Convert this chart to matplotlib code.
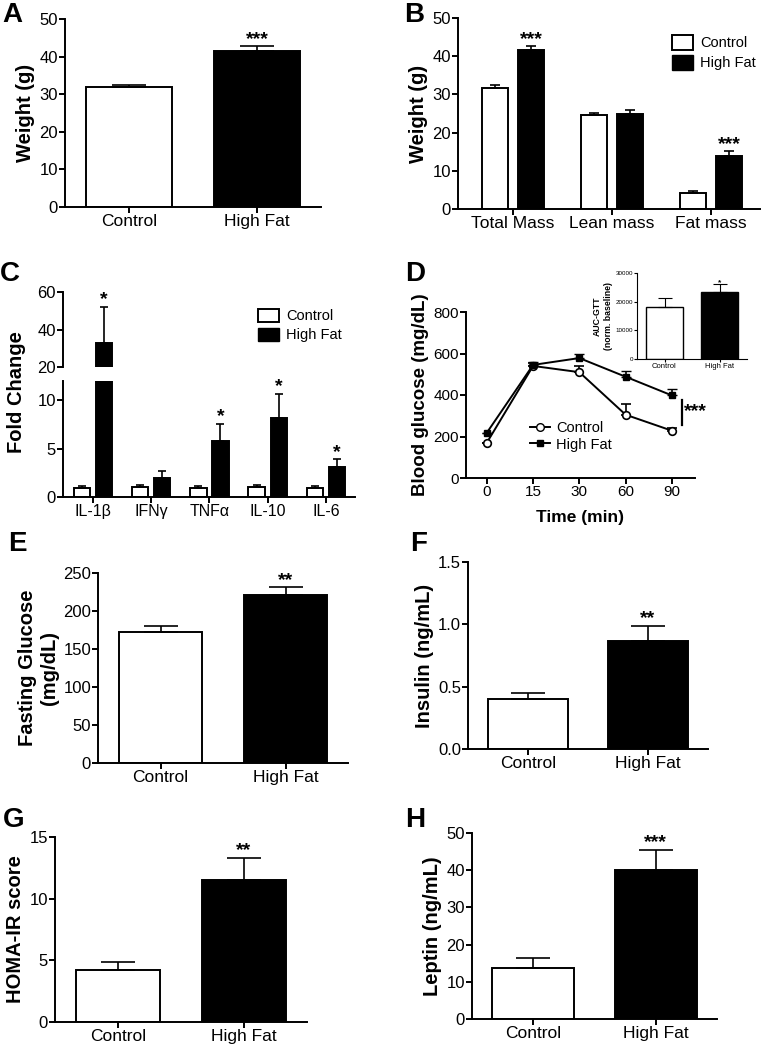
import matplotlib
matplotlib.use("Agg")
import matplotlib.pyplot as plt
from matplotlib.lines import Line2D
from matplotlib.patches import Patch
import numpy as np

plt.rcParams["font.family"] = ["Liberation Sans", "DejaVu Sans"]
plt.rcParams["axes.linewidth"] = 1.4
plt.rcParams["xtick.major.width"] = 1.4
plt.rcParams["ytick.major.width"] = 1.4
plt.rcParams["xtick.major.size"] = 4
plt.rcParams["ytick.major.size"] = 4
plt.rcParams["xtick.labelsize"] = 12
plt.rcParams["ytick.labelsize"] = 12

# ---- data ----
groups = ["Control", "High Fat"]

# A: body weight
weight_mean = [31.8, 41.6]
weight_err = [0.6, 1.1]

# B: body composition
comp_labels = ["Total Mass", "Lean mass", "Fat mass"]
comp_ctrl = [31.8, 24.6, 4.3]
comp_ctrl_err = [0.6, 0.6, 0.3]
comp_hf = [41.6, 25.0, 13.9]
comp_hf_err = [1.0, 0.8, 1.2]
comp_stars = ["***", "", "***"]

# C: cytokines
cyto_labels = ["IL-1β", "IFNγ", "TNFα", "IL-10", "IL-6"]
cyto_ctrl = [0.95, 1.0, 0.95, 1.0, 0.95]
cyto_ctrl_err = [0.2, 0.25, 0.15, 0.25, 0.2]
cyto_hf = [33.0, 2.0, 5.8, 8.2, 3.1]
cyto_hf_err = [19.0, 0.7, 1.8, 2.5, 0.8]
cyto_stars = ["*", "", "*", "*", "*"]

# D: GTT
gtt_time = ["0", "15", "30", "60", "90"]
gtt_ctrl = [170, 540, 510, 305, 228]
gtt_ctrl_err = [0, 15, 30, 50, 12]
gtt_hf = [218, 545, 578, 488, 398]
gtt_hf_err = [0, 15, 22, 30, 32]
auc_mean = [18000, 23300]
auc_err = [3200, 2700]

# E-H
glucose_mean = [172, 221]
glucose_err = [8, 10]
insulin_mean = [0.40, 0.87]
insulin_err = [0.05, 0.12]
homa_mean = [4.2, 11.5]
homa_err = [0.7, 1.8]
leptin_mean = [13.8, 40.0]
leptin_err = [2.7, 5.5]

W, H = 762, 1050
fig = plt.figure(figsize=(W / 100, H / 100), dpi=100)


def box(l, t, r, b):
    return [l / W, 1 - b / H, (r - l) / W, (b - t) / H]


def clean(ax):
    ax.spines["top"].set_visible(False)
    ax.spines["right"].set_visible(False)
    ax.tick_params(direction="out", pad=1)


def star(ax, x, y, s, size=14):
    ax.annotate(s, (x, y), xytext=(0, -1), textcoords="offset points",
                ha="center", va="bottom", fontsize=size, fontweight="bold")


def two_bar(rect, means, errs, ylim, yticks, ylabel, stars):
    ax = fig.add_axes(box(*rect))
    clean(ax)
    x = np.arange(2)
    ax.bar(x, means, 0.67, color=["white", "black"], edgecolor="black", linewidth=1.4,
           yerr=[[0, 0], errs], capsize=12, error_kw=dict(elinewidth=1.2, capthick=1.2),
           zorder=2)
    ax.set_xlim(-0.5, 1.5)
    ax.set_ylim(*ylim)
    ax.set_yticks(yticks)
    ax.set_xticks(x)
    ax.set_xticklabels(groups, fontsize=12.5)
    ax.set_ylabel(ylabel, fontsize=14.5, fontweight="bold", labelpad=3)
    star(ax, 1, means[1] + errs[1], stars)
    return ax


# A
two_bar((65, 19, 321, 207), weight_mean, weight_err, (0, 50), [0, 10, 20, 30, 40, 50],
        "Weight (g)", "***")

# B
axb = fig.add_axes(box(458, 18, 760, 209))
clean(axb)
xb = np.arange(3)
axb.bar(xb - 0.185, comp_ctrl, 0.26, color="white", edgecolor="black", linewidth=1.4,
        yerr=[[0] * 3, comp_ctrl_err], capsize=3.5, error_kw=dict(elinewidth=1.2, capthick=1.2))
axb.bar(xb + 0.185, comp_hf, 0.26, color="black", edgecolor="black", linewidth=1.4,
        yerr=[[0] * 3, comp_hf_err], capsize=3.5, error_kw=dict(elinewidth=1.2, capthick=1.2))
for i, s in enumerate(comp_stars):
    if s:
        star(axb, i + 0.185, comp_hf[i] + comp_hf_err[i], s)
axb.set_xlim(-0.556, 2.495)
axb.set_ylim(0, 50)
axb.set_yticks([0, 10, 20, 30, 40, 50])
axb.set_xticks(xb)
axb.set_xticklabels(comp_labels, fontsize=12.5)
axb.set_ylabel("Weight (g)", fontsize=14.5, fontweight="bold", labelpad=3)
axb.legend(handles=[Patch(facecolor="white", edgecolor="black", linewidth=1.4, label="Control"),
                    Patch(facecolor="black", edgecolor="black", label="High Fat")],
           frameon=False, fontsize=10.5, loc="upper right", bbox_to_anchor=(1.03, 0.98),
           handlelength=1.4, handleheight=1.2, handletextpad=0.5, labelspacing=0.3)

# C (broken axis)
xc = np.arange(5)
axc_lo = fig.add_axes(box(63, 381, 355, 497))
axc_hi = fig.add_axes(box(63, 292, 355, 367))
for ax in (axc_lo, axc_hi):
    clean(ax)
    ax.bar(xc - 0.19, cyto_ctrl, 0.28, color="white", edgecolor="black", linewidth=1.4,
           yerr=[[0] * 5, cyto_ctrl_err], capsize=3, error_kw=dict(elinewidth=1.2, capthick=1.2))
    ax.bar(xc + 0.19, cyto_hf, 0.28, color="black", edgecolor="black", linewidth=1.4,
           yerr=[[0] * 5, cyto_hf_err], capsize=3, error_kw=dict(elinewidth=1.2, capthick=1.2))
    ax.set_xlim(-0.515, 4.5)
axc_lo.set_ylim(0, 12)
axc_lo.set_yticks([0, 5, 10])
axc_lo.set_xticks(xc)
axc_lo.set_xticklabels(cyto_labels, fontsize=11.5)
axc_hi.set_ylim(20, 60)
axc_hi.set_yticks([20, 40, 60])
axc_hi.spines["bottom"].set_visible(False)
axc_hi.set_xticks([])
for i, s in enumerate(cyto_stars):
    if s:
        target = axc_hi if cyto_hf[i] > 12 else axc_lo
        star(target, i + 0.19, cyto_hf[i] + cyto_hf_err[i], s, size=14)
fig.text(17 / W, 1 - 392 / H, "Fold Change", rotation=90, fontsize=14.5, fontweight="bold",
         ha="center", va="center")
axc_hi.legend(handles=[Patch(facecolor="white", edgecolor="black", linewidth=1.4, label="Control"),
                       Patch(facecolor="black", edgecolor="black", label="High Fat")],
              frameon=False, fontsize=10.5, loc="upper right", bbox_to_anchor=(1.0, 0.95),
              handlelength=1.4, handleheight=1.0, handletextpad=0.5, labelspacing=0.3)

# D
axd = fig.add_axes(box(466, 312, 695, 478))
clean(axd)
xd = np.arange(5)
axd.errorbar(xd, gtt_ctrl, yerr=[[0] * 5, gtt_ctrl_err], color="black", marker="o",
             mfc="white", ms=5.5, mew=1.2, lw=1.4, capsize=3.5, elinewidth=1.2, zorder=3)
axd.errorbar(xd, gtt_hf, yerr=[[0] * 5, gtt_hf_err], color="black", marker="s",
             mfc="black", ms=5, lw=1.4, capsize=3.5, elinewidth=1.2, zorder=3)
axd.set_xlim(-0.45, 4.5)
axd.set_ylim(0, 800)
axd.set_yticks([0, 200, 400, 600, 800])
axd.set_xticks(xd)
axd.set_xticklabels(gtt_time)
axd.tick_params(labelsize=11)
axd.set_ylabel("Blood glucose (mg/dL)", fontsize=13.5, fontweight="bold", labelpad=3)
axd.set_xlabel("Time (min)", fontsize=12.5, fontweight="bold", labelpad=8)
axd.plot([4.22, 4.22], [255, 376], color="black", lw=1.6, clip_on=False)
axd.text(4.26, 322, "***", fontsize=14, fontweight="bold", va="center", ha="left")
axd.legend(handles=[Line2D([], [], color="black", marker="o", mfc="white", ms=5.5, lw=1.4, label="Control"),
                    Line2D([], [], color="black", marker="s", mfc="black", ms=5, lw=1.4, label="High Fat")],
           frameon=False, fontsize=10.5, loc="lower left", bbox_to_anchor=(0.22, 0.08),
           handlelength=1.4, handletextpad=0.4, labelspacing=0.2)

# D inset
axi = fig.add_axes(box(637, 273, 747, 359))
clean(axi)
axi.spines["left"].set_linewidth(0.8)
axi.spines["bottom"].set_linewidth(0.8)
axi.tick_params(width=0.8, length=2, labelsize=4.5, pad=1)
axi.bar([0, 1], auc_mean, 0.67, color=["white", "black"], edgecolor="black", linewidth=1.0,
        yerr=[[0, 0], auc_err], capsize=5, error_kw=dict(elinewidth=0.8, capthick=0.8))
axi.set_xlim(-0.5, 1.5)
axi.set_ylim(0, 30000)
axi.set_yticks([0, 10000, 20000, 30000])
axi.set_xticks([0, 1])
axi.set_xticklabels(groups, fontsize=5.5)
axi.set_ylabel("AUC-GTT\n(norm. baseline)", fontsize=6.3, fontweight="bold", labelpad=2)
star(axi, 1, auc_mean[1] + auc_err[1], "*", size=6)

# E-H
two_bar((98, 573, 348, 763), glucose_mean, glucose_err, (0, 250), [0, 50, 100, 150, 200, 250],
        "Fasting Glucose\n(mg/dL)", "**")
two_bar((468, 562, 708, 749), insulin_mean, insulin_err, (0, 1.5), [0, 0.5, 1.0, 1.5],
        "Insulin (ng/mL)", "**")
two_bar((55, 837, 307, 1022), homa_mean, homa_err, (0, 15), [0, 5, 10, 15],
        "HOMA-IR score", "**")
two_bar((472, 833, 717, 1019), leptin_mean, leptin_err, (0, 50), [0, 10, 20, 30, 40, 50],
        "Leptin (ng/mL)", "***")

# panel letters
for lab, x, y in [("A", 2, 2), ("B", 404, 2), ("C", 0, 261), ("D", 405, 261),
                  ("E", 8, 531), ("F", 410, 531), ("G", 3, 807), ("H", 405, 807)]:
    fig.text(x / W, 1 - y / H, lab, fontsize=20, fontweight="bold", ha="left", va="top")

fig.savefig("out.png", dpi=100)
